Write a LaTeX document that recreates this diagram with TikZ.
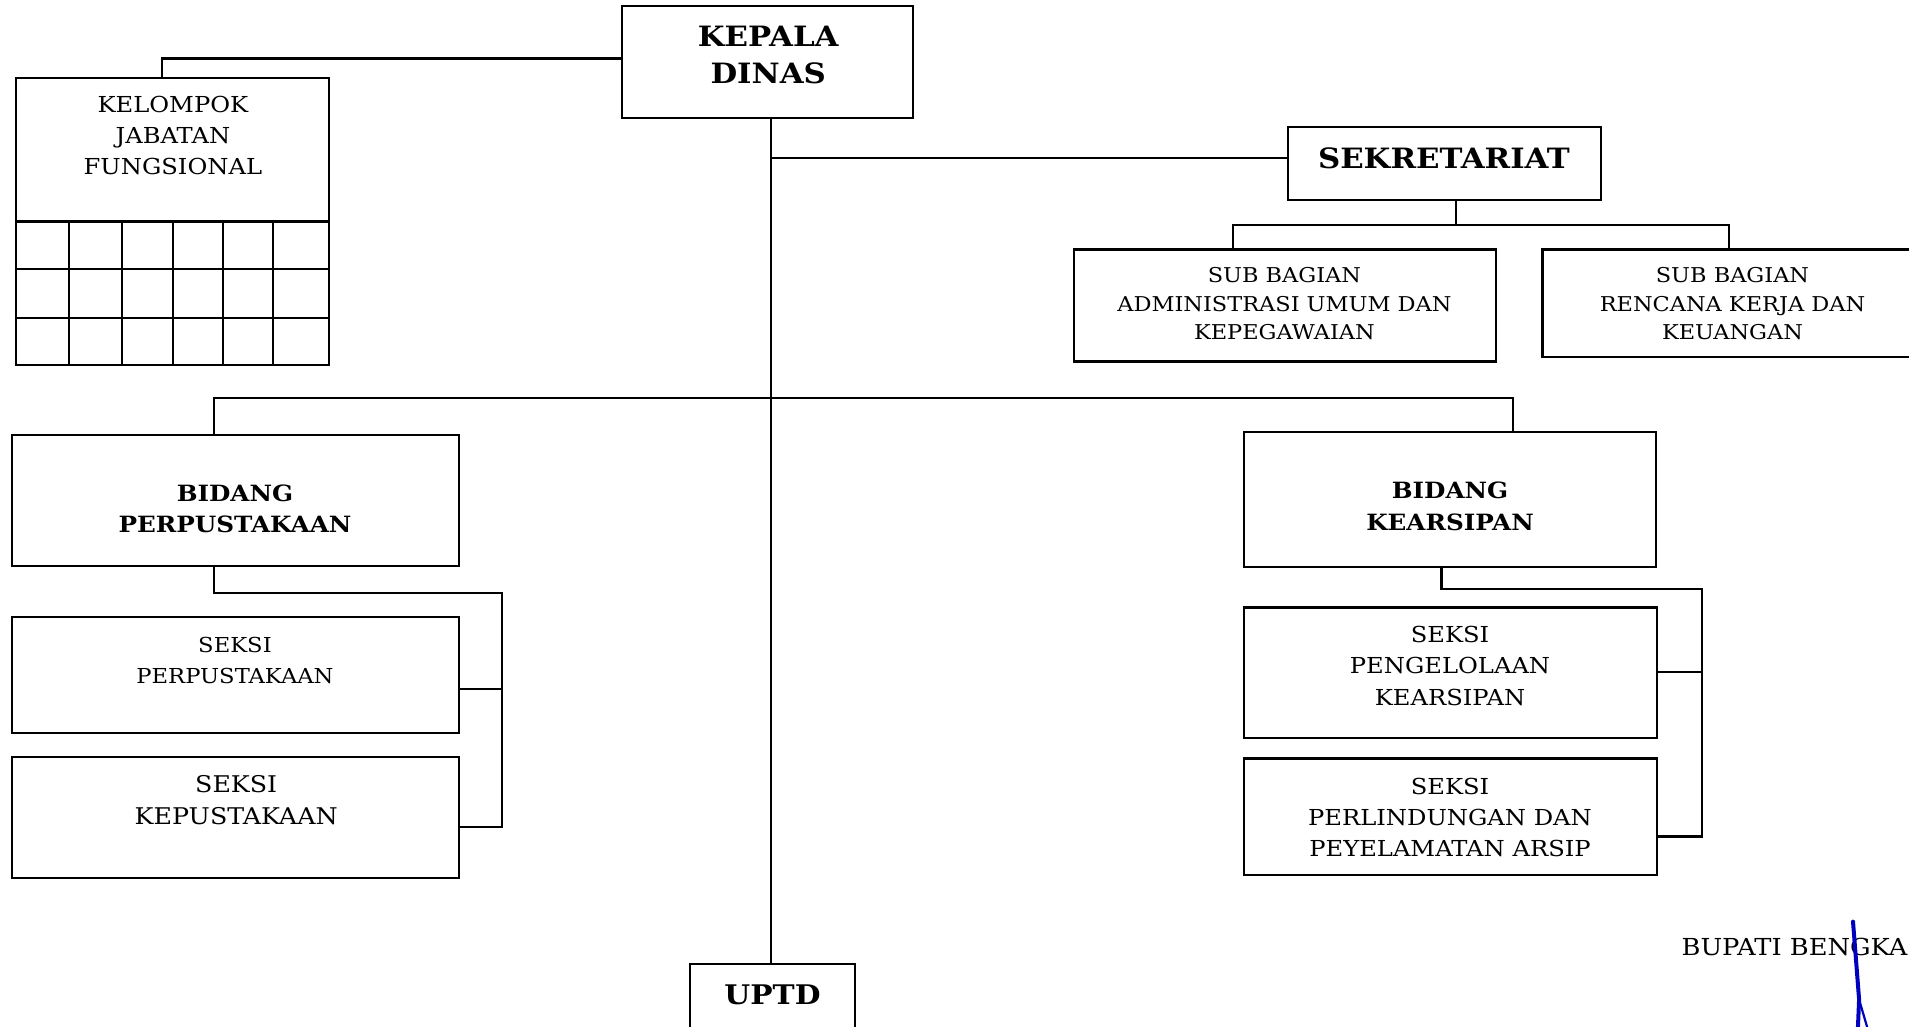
\documentclass[tikz,border=0pt]{standalone}
\usepackage{fontspec}
\setmainfont[FakeStretch=1.1]{DejaVu Serif}
\usetikzlibrary{fit}
\newcommand\fsz[2]{\fontsize{#1}{#2}\selectfont}
\begin{document}
\begin{tikzpicture}[x=0.60875pt,y=-0.60875pt,
  box/.style={draw, line width=1.1pt, inner sep=0pt, fit={#1}},
  conn/.style={draw, line width=1.1pt},
  txt/.style={align=center, inner sep=0pt},
  big/.style={txt, font=\fsz{14}{18.3}\bfseries},
  mid/.style={txt, font=\fsz{11.2}{15.8}\bfseries},
  reg/.style={txt, font=\fsz{11}{15.6}},
  small/.style={txt, font=\fsz{10.2}{14.3}},
  sig/.style={draw=blue!75!black, line width=2pt, line cap=round, line join=round}]
\useasboundingbox (0,0) rectangle (1568,843);
\clip (0,0) rectangle (1568,843);
\fill[white] (0,0) rectangle (1568,843);

% boxes
\node[box={(511,5) (750,97)}] (kepala) {};
\node[box={(13,64) (270,300)}] (kel) {};
\node[box={(1058,104) (1315,164)}] (sek) {};
\node[box={(882,205) (1229,297)}] (adm) {};
\node[box={(1267,205) (1580,293)}] (rk) {};
\node[box={(10,357) (377,465)}] (bp) {};
\node[box={(10,507) (377,602)}] (sp) {};
\node[box={(10,622) (377,721)}] (sk) {};
\node[box={(1022,355) (1360,466)}] (bk) {};
\node[box={(1022,499) (1361,606)}] (spg) {};
\node[box={(1022,623) (1361,719)}] (spl) {};
\node[box={(567,792) (702,900)}] (uptd) {};

% grid of kelompok jabatan fungsional
\foreach \yy in {182,221,261} \draw[line width=1.1pt] (kel.west |- 0,\yy) -- (kel.east |- 0,\yy);
\foreach \xx in {57,100,142,183,224} \draw[line width=1.1pt] (\xx,182) -- (kel.south -| \xx,0);

% texts
\node[big] (tkepala) at (631,45) {KEPALA\\DINAS};
\node[reg] (tkel) at (142,111.5) {KELOMPOK\\JABATAN\\FUNGSIONAL};
\node[big] (tsek) at (1186,130) {SEKRETARIAT};
\node[small] (tadm) at (1055,249.5) {SUB BAGIAN\\ADMINISTRASI UMUM DAN\\KEPEGAWAIAN};
\node[small] (trk) at (1423,249.5) {SUB BAGIAN\\RENCANA KERJA DAN\\KEUANGAN};
\node[mid] (tbp) at (193,418) {BIDANG\\PERPUSTAKAAN};
\node[txt, font=\fsz{10.3}{15.2}] (tsp) at (193,542.5) {SEKSI\\PERPUSTAKAAN};
\node[txt, font=\fsz{11.5}{15.8}] (tsk) at (194,657) {SEKSI\\KEPUSTAKAAN};
\node[mid] (tbk) at (1191,416) {BIDANG\\KEARSIPAN};
\node[reg] (tspg) at (1191,547) {SEKSI\\PENGELOLAAN\\KEARSIPAN};
\node[reg] (tspl) at (1191,671.5) {SEKSI\\PERLINDUNGAN DAN\\PEYELAMATAN ARSIP};
\node[txt, font=\fsz{13.5}{16}\bfseries] (tuptd) at (634.5,817) {UPTD};
\node[txt, font=\fsz{11.7}{14}, anchor=east] (tbup) at (1567,778) {BUPATI BENGKA};

% connectors
\draw[conn] (kepala.west |- 0,48) -| (kel.north -| 133,0);
\draw[conn] (kepala.south -| 633,0) -- (uptd.north -| 633,0);
\draw[conn] (633,130) -- (sek.west |- 0,130);
\draw[conn] (sek.south -| 1196,0) -- (1196,185);
\draw[conn] (adm.north -| 1013,0) |- (1420,185) -- (rk.north -| 1420,0);
\draw[conn] (bp.north -| 176,0) |- (1243,327) -- (bk.north -| 1243,0);
\draw[conn] (bp.south -| 176,0) |- (412,487) |- (sk.east |- 0,679);
\draw[conn] (sp.east |- 0,566) -- (412,566);
\draw[conn] (bk.south -| 1184,0) |- (1398,484) |- (spl.east |- 0,687);
\draw[conn] (spg.east |- 0,552) -- (1398,552);

% signature stroke
\draw[sig] (1522,757) -- (1527,821) -- (1526,845);
\draw[sig, line width=1.1pt] (1527,821) -- (1534,845);
\end{tikzpicture}
\end{document}
